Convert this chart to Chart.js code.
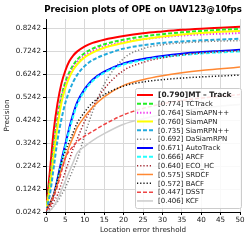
<!DOCTYPE html>
<html>
<head>
<meta charset="utf-8">
<script src="https://cdn.jsdelivr.net/npm/chart.js@4.4.1/dist/chart.umd.min.js"></script>
<style>
  html, body { margin: 0; padding: 0; background: #fff; }
  #wrap { width: 249px; height: 240px; }
</style>
</head>
<body>
<div id="wrap"><canvas id="c" width="249" height="240"></canvas></div>
<script>
// thresholds (x) and precision values
const thresholds = [0, 1, 2, 3, 4, 5, 6, 7, 8, 10, 12, 15, 20, 25, 30, 35, 40, 45, 50];
const mtTrack   = [0.03, 0.20, 0.38, 0.50, 0.585, 0.64, 0.68, 0.705, 0.722, 0.745, 0.76, 0.774, 0.790, 0.802, 0.81, 0.817, 0.822, 0.826, 0.83];
const tcTrack   = [0.03, 0.16, 0.31, 0.44, 0.53, 0.59, 0.632, 0.663, 0.686, 0.716, 0.735, 0.754, 0.774, 0.788, 0.798, 0.806, 0.812, 0.817, 0.821];
const siamApnPP = [0.03, 0.15, 0.30, 0.43, 0.52, 0.58, 0.622, 0.653, 0.676, 0.706, 0.725, 0.744, 0.764, 0.776, 0.785, 0.792, 0.797, 0.80, 0.803];
const siamApn   = [0.03, 0.13, 0.27, 0.40, 0.50, 0.565, 0.61, 0.642, 0.666, 0.698, 0.718, 0.739, 0.760, 0.776, 0.788, 0.797, 0.803, 0.808, 0.812];
const siamRpnPP = [0.03, 0.10, 0.22, 0.34, 0.43, 0.50, 0.55, 0.59, 0.62, 0.66, 0.685, 0.708, 0.735, 0.75, 0.76, 0.766, 0.771, 0.775, 0.778];
const daSiamRpn = [0.02, 0.03, 0.05, 0.07, 0.10, 0.13, 0.17, 0.21, 0.25, 0.36, 0.46, 0.58, 0.692, 0.735, 0.752, 0.76, 0.765, 0.768, 0.77];
const autoTrack = [0.03, 0.06, 0.10, 0.17, 0.25, 0.32, 0.39, 0.45, 0.50, 0.56, 0.60, 0.635, 0.671, 0.69, 0.703, 0.713, 0.72, 0.725, 0.73];
const arcf      = [0.03, 0.055, 0.095, 0.16, 0.24, 0.31, 0.38, 0.44, 0.49, 0.553, 0.594, 0.63, 0.666, 0.685, 0.698, 0.707, 0.714, 0.719, 0.723];
const ecoHc     = [0.03, 0.04, 0.07, 0.10, 0.15, 0.20, 0.25, 0.30, 0.34, 0.42, 0.48, 0.56, 0.640, 0.675, 0.695, 0.708, 0.716, 0.722, 0.726];
const srdcf     = [0.03, 0.06, 0.10, 0.15, 0.21, 0.26, 0.31, 0.35, 0.39, 0.44, 0.48, 0.525, 0.575, 0.60, 0.617, 0.63, 0.64, 0.647, 0.655];
const bacf      = [0.03, 0.06, 0.10, 0.17, 0.24, 0.29, 0.33, 0.37, 0.41, 0.46, 0.50, 0.535, 0.572, 0.59, 0.60, 0.607, 0.612, 0.616, 0.62];
const dsst      = [0.03, 0.05, 0.09, 0.14, 0.20, 0.26, 0.29, 0.31, 0.33, 0.355, 0.375, 0.405, 0.447, 0.475, 0.495, 0.51, 0.52, 0.528, 0.535];
const kcf       = [0.02, 0.03, 0.05, 0.08, 0.12, 0.16, 0.20, 0.24, 0.28, 0.31, 0.335, 0.365, 0.406, 0.43, 0.45, 0.465, 0.477, 0.485, 0.492];

const legendLabels = ['[0.790]MT – Track', '[0.774] TCTrack', '[0.764] SiamAPN++', '[0.760] SiamAPN',
  '[0.735] SiamRPN++', '[0.692] DaSiamRPN', '[0.671] AutoTrack', '[0.666] ARCF', '[0.640] ECO_HC',
  '[0.575] SRDCF', '[0.572] BACF', '[0.447] DSST', '[0.406] KCF'];
const yTicks = [0.0242, 0.1242, 0.2242, 0.3242, 0.4242, 0.5242, 0.6242, 0.7242, 0.8242];
const xTicks = [0, 5, 10, 15, 20, 25, 30, 35, 40, 45, 50];

const DASH = [4, 2];
const DOT = [1.2, 2];
const series = [
  { data: mtTrack,   color: '#ff0000', dash: [],   width: 2 },
  { data: tcTrack,   color: '#22ee22', dash: DASH, width: 2 },
  { data: siamApnPP, color: '#ee22ee', dash: DOT,  width: 2 },
  { data: siamApn,   color: '#ffff00', dash: [],   width: 2 },
  { data: siamRpnPP, color: '#22aadd', dash: DASH, width: 2 },
  { data: daSiamRpn, color: '#808080', dash: DOT,  width: 1.5 },
  { data: autoTrack, color: '#0000ff', dash: [],   width: 2 },
  { data: arcf,      color: '#22ffff', dash: DASH, width: 2 },
  { data: ecoHc,     color: '#a0202a', dash: DOT,  width: 1.5 },
  { data: srdcf,     color: '#ff8833', dash: [],   width: 1.5 },
  { data: bacf,      color: '#111111', dash: DOT,  width: 1.5 },
  { data: dsst,      color: '#ee4444', dash: DASH, width: 1.5 },
  { data: kcf,       color: '#cccccc', dash: [],   width: 1.5 }
];

const datasets = series.map((s, i) => ({
  label: legendLabels[i],
  data: thresholds.map((t, j) => ({ x: t, y: s.data[j] })),
  borderColor: s.color,
  borderDash: s.dash,
  borderWidth: s.width,
  pointRadius: 0,
  fill: false,
  cubicInterpolationMode: 'monotone'
})).reverse(); // draw MT-Track on top

const font = 'DejaVu Sans';

// title + legend inside the plot, matplotlib style
const overlay = {
  id: 'overlay',
  afterDraw(chart) {
    const ctx = chart.ctx;
    const a = chart.chartArea;
    ctx.save();
    ctx.fillStyle = '#000';
    ctx.font = 'bold 8.6px "' + font + '"';
    ctx.textAlign = 'center';
    ctx.textBaseline = 'middle';
    ctx.fillText('Precision plots of OPE on UAV123@10fps', (a.left + a.right) / 2, 10);

    // legend box
    const bx = 135, by = 88, bw = 106, bh = 120;
    ctx.fillStyle = 'rgba(255,255,255,0.85)';
    ctx.strokeStyle = '#cccccc';
    ctx.lineWidth = 1;
    ctx.beginPath();
    ctx.roundRect(bx + 0.5, by + 0.5, bw, bh, 2);
    ctx.fill();
    ctx.stroke();

    ctx.textAlign = 'left';
    series.forEach((s, i) => {
      const y = 95 + i * 8.83;
      ctx.strokeStyle = s.color;
      ctx.lineWidth = s.width;
      ctx.setLineDash(s.dash);
      ctx.beginPath();
      ctx.moveTo(137, y);
      ctx.lineTo(153, y);
      ctx.stroke();
      ctx.setLineDash([]);
      ctx.fillStyle = '#222';
      ctx.font = (i === 0 ? 'bold 7.4px ' : '7px ') + '"' + font + '"';
      ctx.fillText(legendLabels[i], 158, y + 0.5);
    });
    ctx.restore();
  }
};

new Chart(document.getElementById('c'), {
  type: 'line',
  data: { datasets },
  options: {
    responsive: false,
    animation: false,
    layout: { padding: { top: 19, right: 9, left: 3, bottom: 6 } },
    plugins: { legend: { display: false }, tooltip: { enabled: false }, title: { display: false } },
    scales: {
      x: {
        type: 'linear',
        min: 0, max: 50,
        afterFit(scale) { scale.height = 22; },
        afterBuildTicks(scale) { scale.ticks = xTicks.map(v => ({ value: v })); },
        grid: { color: '#d8d8d8', tickLength: 3, tickColor: '#000' },
        border: { color: '#000', width: 1 },
        ticks: { color: '#222', font: { family: font, size: 7.2 }, padding: 1, maxRotation: 0 },
        title: { display: true, text: 'Location error threshold', color: '#222', font: { family: font, size: 7.2 }, padding: { top: 1, bottom: 0 } }
      },
      y: {
        type: 'linear',
        min: 0.0242, max: 0.864,
        afterFit(scale) { scale.width = 43; },
        afterBuildTicks(scale) { scale.ticks = yTicks.map(v => ({ value: v })); },
        grid: { color: '#d8d8d8', tickLength: 3, tickColor: '#000' },
        border: { color: '#000', width: 1 },
        ticks: { color: '#222', font: { family: font, size: 7.2 }, padding: 2, callback: v => v.toFixed(4) },
        title: { display: true, text: 'Precision', color: '#222', font: { family: font, size: 7.2 }, padding: { top: 0, bottom: 2 } }
      }
    }
  },
  plugins: [overlay]
});
</script>
</body>
</html>
